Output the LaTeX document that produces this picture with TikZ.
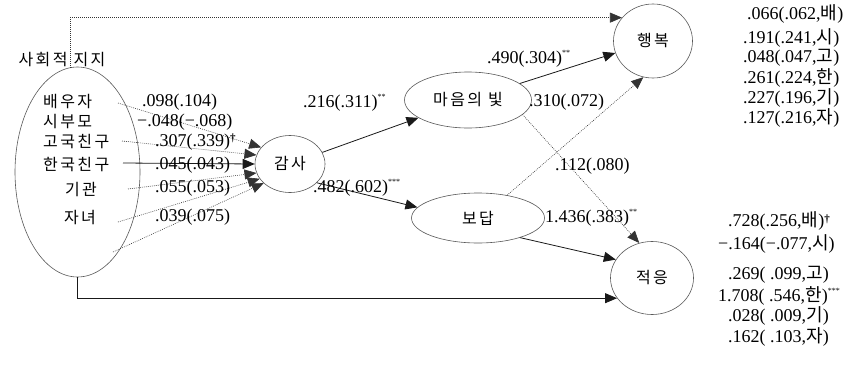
\documentclass[tikz,border=0pt]{standalone}
\usepackage{fontspec}
\setmainfont{Liberation Serif}
\newfontfamily\kr[LetterSpace=15]{Noto Sans CJK KR}
\usetikzlibrary{arrows.meta,shapes.geometric}
\newcommand\supst[1]{\raisebox{0.42em}{\fontsize{8}{8}\selectfont #1}}
\newcommand\dgr{\raisebox{0.25em}{\fontsize{11}{11}\selectfont\textbf{†}}}
\begin{document}
\begin{tikzpicture}[x=1pt,y=-1pt,
  oval/.style={ellipse,draw=black!65,line width=0.6pt,inner sep=0pt,font=\fontsize{16}{16}\selectfont\kr},
  lab/.style={inner sep=0pt,font=\fontsize{18}{18}\selectfont},
  ktext/.style={inner sep=0pt,font=\fontsize{16}{16}\selectfont\kr},
  tip/.style={-{Triangle[length=12pt,width=10pt]}},
  sol/.style={tip,line width=0.8pt,draw=black!90},
  dotln/.style={tip,line width=0.6pt,draw=black!80,dash pattern=on 0.8pt off 1.2pt}]
\useasboundingbox (0,0) rectangle (865,370);
\fill[white] (0,0) rectangle (865,370);

% nodes
\node[oval,minimum width=125,minimum height=210] (ss) at (77.5,172) {};
\node[ktext] (sslab) at (62,60) {사회적 지지};
\node[ktext,anchor=west] (bw) at (43,102) {배우자};
\node[ktext,anchor=west] (sb) at (43,122) {시부모};
\node[ktext,anchor=west] (gk) at (43,142) {고국친구};
\node[ktext,anchor=west] (hk) at (43,165) {한국친구};
\node[ktext] (gg) at (81,190) {기관};
\node[ktext] (jn) at (80,218) {자녀};

\node[oval,minimum width=70,minimum height=57] (gamsa) at (290,164) {감사};
\node[oval,minimum width=127,minimum height=56] (maeum) at (468,100) {마음의 빛};
\node[oval,minimum width=133,minimum height=50] (boda) at (478,218) {보답};
\node[oval,minimum width=79,minimum height=74] (hang) at (653,41) {행복};
\node[oval,minimum width=83,minimum height=73] (jeog) at (652,278) {적응};

% start points
\coordinate (s1) at (118,103);
\coordinate (s3) at (122,141);
\coordinate (s4) at (123,163);
\coordinate (s5) at (128,189);
\coordinate (s6) at (118,222);
\coordinate (s7) at (113,252);
\coordinate (ssTop) at (70,67.5);

% connectors
\draw[dotln] (s1) -- (gamsa.150);
\draw[dotln] (s3) -- (gamsa.165);
\draw[sol] (s4) -- (gamsa.180);
\draw[dotln] (s5) -- (gamsa.195);
\draw[dotln] (s6) -- (gamsa.206);
\draw[dotln] (s7) -- (gamsa.216);
\draw[sol] (gamsa) -- (maeum);
\draw[sol] (gamsa.-35) -- (boda.170);
\draw[sol] (maeum) -- (hang);
\draw[dotln] (maeum.-15) -- (jeog.110);
\draw[dotln] (boda.38) -- (hang.-105);
\draw[sol] (boda.-25) -- (jeog.153);
\draw[dotln] (ssTop) |- (hang.143);
\draw[sol] (ss.south) |- (jeog.210);

% path labels
\node[lab,anchor=west] (l1) at (142,102) {.098(.104)};
\node[lab,anchor=west] (l2) at (137,122) {−.048(−.068)};
\node[lab,anchor=west] (l3) at (155,142) {.307(.339)\dgr};
\node[lab,anchor=west] (l4) at (155,165) {.045(.043)};
\node[lab,anchor=west] (l5) at (155,188) {.055(.053)};
\node[lab,anchor=west] (l6) at (155,217) {.039(.075)};
\node[lab,anchor=west] (l7) at (303,103) {.216(.311)\supst{**}};
\node[lab,anchor=west] (l8) at (313,188) {.482(.602)\supst{***}};
\node[lab,anchor=west] (l9) at (487,59) {.490(.304)\supst{**}};
\node[lab,anchor=west] (l10) at (529,102) {.310(.072)};
\node[lab,anchor=west] (l11) at (555,166) {.112(.080)};
\node[lab,anchor=west] (l12) at (545,218) {1.436(.383)\supst{**}};

% right block: happiness
\node[lab,anchor=west] (h1) at (747,14) {.066(.062,{\kr 배})};
\node[lab,anchor=west] (h2) at (743,38) {.191(.241,{\kr 시})};
\node[lab,anchor=west] (h3) at (743,58) {.048(.047,{\kr 고})};
\node[lab,anchor=west] (h4) at (743,78) {.261(.224,{\kr 한})};
\node[lab,anchor=west] (h5) at (743,98) {.227(.196,{\kr 기})};
\node[lab,anchor=west] (h6) at (743,118) {.127(.216,{\kr 자})};

% right block: adaptation
\node[lab,anchor=west] (a1) at (728,221) {.728(.256,{\kr 배})\dgr};
\node[lab,anchor=west] (a2) at (718,244) {−.164(−.077,{\kr 시})};
\node[lab,anchor=west] (a3) at (728,275) {.269( .099,{\kr 고})};
\node[lab,anchor=west] (a4) at (718,296) {1.708( .546,{\kr 한})\supst{***}};
\node[lab,anchor=west] (a5) at (728,316) {.028( .009,{\kr 기})};
\node[lab,anchor=west] (a6) at (728,337) {.162( .103,{\kr 자})};
\end{tikzpicture}
\end{document}
